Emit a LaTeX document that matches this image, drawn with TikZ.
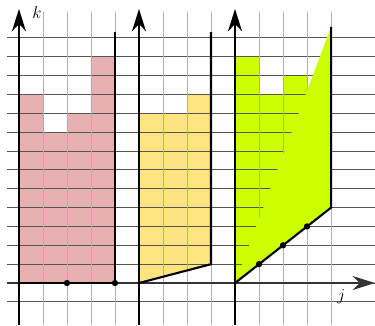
\documentclass[tikz,border=0pt]{standalone}
\usepackage{amsmath}
\usepackage{amssymb}
\usetikzlibrary{arrows.meta, positioning}
\definecolor{pinkfill}{RGB}{231,177,177}
\definecolor{yellowfill}{RGB}{255,228,128}
\definecolor{limefill}{RGB}{204,255,0}
\definecolor{hgrid}{RGB}{85,85,85}
\definecolor{vgrid}{RGB}{175,175,175}
\tikzstyle{latpt}=[circle, fill, inner sep=0pt, minimum size=4.5pt]
\tikzstyle{axis}=[line width=1.1pt, -{Stealth[length=16pt, width=10pt]}]
\tikzstyle{bound}=[line width=1.5pt]
\newcommand{\latpt}{\node[latpt]}

\begin{document}
\begin{tikzpicture}[x=0.6cm, y=0.47125cm]
            \useasboundingbox (-0.79,-2.23) rectangle (14.83,15.01);
            % regions
            \fill[pinkfill] (0,0) -- (0,10) -- (1,10) -- (1,8) -- (2,8) -- (2,9) -- (3,9)
                -- (3,12) -- (4,12) -- (4,0) -- cycle;
            \fill[yellowfill] (5,0) -- (5,9) -- (7,9) -- (7,10) -- (8,10) -- (8,1) -- cycle;
            \fill[limefill] (9,0) -- (9,12) -- (10,12) -- (10,10) -- (11,10) -- (11,11)
                -- (12,11) -- (12,3) -- cycle;
            % grid
            \foreach \k in {-1,...,13}
                \draw[hgrid, line width=0.6pt] (-0.5,\k) -- (14.83,\k);
            \foreach \j in {1,...,13}
                \draw[vgrid, line width=0.6pt] (\j,-2.23) -- (\j,14.38);
            \fill[limefill] (9,0) -- (13,13.58) -- (13,4) -- cycle;
            % corners
            \coordinate (a0) at (0,0);
            \coordinate (a4) at (4,0);
            \coordinate (a4t) at (4,13.3);
            \coordinate (b0) at (5,0);
            \coordinate (b3) at (8,1);
            \coordinate (b3t) at (8,13.3);
            \coordinate (c0) at (9,0);
            \coordinate (c4) at (13,4);
            \coordinate (c4t) at (13,13.58);
            % axes
            \draw[axis, hgrid!60!black] (-0.5,0) -- (14.83,0);
            \draw[axis] (0,-2.23) -- (0,14.54);
            \draw[axis] (5,-2.23) -- (5,14.54);
            \draw[axis] (9,-2.23) -- (9,14.54);
            \node[font=\large] (klab) at (0.75,14.32) {$k$};
            \node[font=\large] (jlab) at (13.42,-0.74) {$j$};
            % boundaries
            \draw[bound] (a0) -- (a4) -- (a4t);
            \draw[bound] (b0) -- (b3) -- (b3t);
            \draw[bound] (c0) -- (c4) -- (c4t);
            \latpt (p2) at (2,0) {};
            \latpt (p4) at (a4) {};
            \latpt (q1) at (10,1) {};
            \latpt (q2) at (11,2) {};
            \latpt (q3) at (12,3) {};
        \end{tikzpicture}
\end{document}
